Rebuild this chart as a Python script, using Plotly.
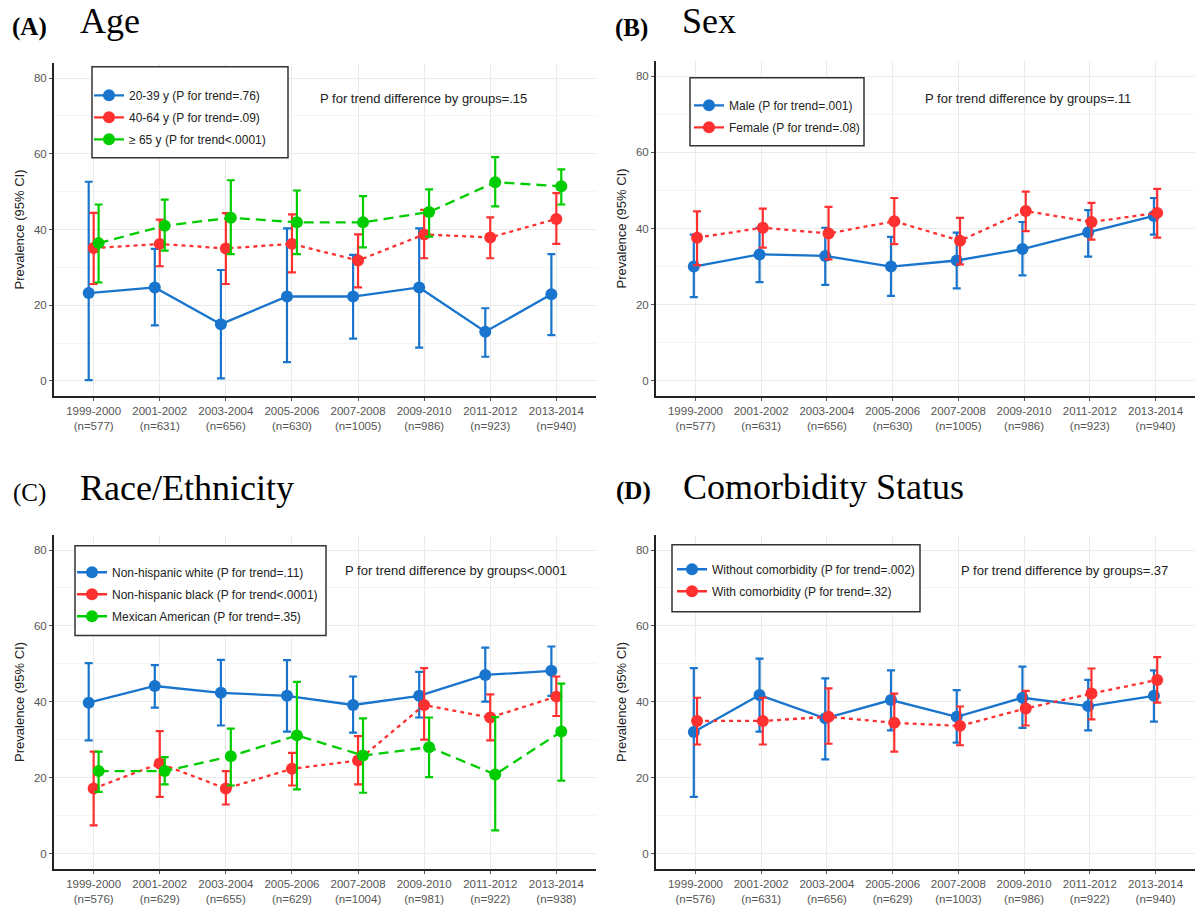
import plotly.graph_objects as go

W, H = 1195, 905

periods = ["1999-2000", "2001-2002", "2003-2004", "2005-2006",
           "2007-2008", "2009-2010", "2011-2012", "2013-2014"]
n_age = [577, 631, 656, 630, 1005, 986, 923, 940]
n_sex = [577, 631, 656, 630, 1005, 986, 923, 940]
n_race = [576, 629, 655, 629, 1004, 981, 922, 938]
n_como = [576, 631, 656, 629, 1003, 986, 922, 940]

# Panel A: Age
age_2039 = [23.2, 24.7, 15.0, 22.3, 22.3, 24.7, 13.0, 22.9]
age_2039_lo = [0.2, 14.7, 0.7, 5.0, 11.2, 8.8, 6.4, 12.1]
age_2039_hi = [52.6, 34.9, 29.3, 40.3, 33.3, 40.3, 19.2, 33.5]
age_4064 = [35.1, 36.2, 35.0, 36.2, 31.8, 38.7, 37.9, 42.8]
age_4064_lo = [25.6, 30.3, 25.6, 28.7, 24.7, 32.4, 32.4, 36.2]
age_4064_hi = [44.4, 42.6, 44.3, 44.0, 38.7, 45.2, 43.2, 49.6]
age_65 = [36.4, 41.0, 43.1, 41.9, 41.9, 44.6, 52.5, 51.4]
age_65_lo = [26.0, 34.4, 33.5, 33.5, 35.3, 38.1, 46.1, 46.6]
age_65_hi = [46.6, 47.9, 53.0, 50.3, 48.8, 50.6, 59.1, 55.9]

# Panel B: Sex
male = [30.0, 33.2, 32.8, 30.0, 31.6, 34.6, 39.0, 43.3]
male_lo = [22.0, 25.9, 25.2, 22.3, 24.3, 27.7, 32.6, 38.4]
male_hi = [38.4, 40.2, 40.2, 37.8, 38.9, 41.7, 44.8, 48.0]
female = [37.6, 40.2, 38.7, 41.9, 36.8, 44.6, 41.7, 44.1]
female_lo = [30.4, 35.0, 31.9, 35.9, 30.6, 39.3, 37.1, 37.6]
female_hi = [44.5, 45.2, 45.7, 48.0, 42.8, 49.7, 46.7, 50.4]

# Panel C: Race/Ethnicity
white = [39.8, 44.2, 42.4, 41.6, 39.2, 41.6, 47.1, 48.2]
white_lo = [29.9, 38.5, 33.8, 32.2, 31.9, 35.9, 40.1, 41.6]
white_hi = [50.2, 49.7, 51.1, 51.0, 46.7, 47.9, 54.3, 54.6]
black = [17.2, 23.8, 17.2, 22.4, 24.6, 39.2, 35.9, 41.4]
black_lo = [7.5, 15.0, 13.0, 18.0, 18.3, 30.1, 29.9, 36.3]
black_hi = [26.9, 32.3, 21.8, 26.6, 31.0, 48.9, 42.0, 46.7]
mexican = [21.8, 21.8, 25.7, 31.2, 25.9, 28.1, 20.9, 32.2]
mexican_lo = [16.3, 18.3, 18.0, 17.0, 16.1, 20.2, 6.2, 19.3]
mexican_hi = [26.9, 25.5, 33.0, 45.3, 35.7, 35.9, 36.0, 44.8]

# Panel D: Comorbidity
without_c = [32.1, 41.8, 35.7, 40.5, 36.1, 41.1, 38.9, 41.6]
without_c_lo = [15.0, 32.2, 24.9, 32.5, 29.3, 33.2, 32.5, 34.8]
without_c_hi = [48.9, 51.4, 46.2, 48.3, 43.1, 49.3, 45.8, 48.3]
with_c = [35.0, 35.0, 36.1, 34.5, 33.7, 38.3, 42.2, 45.8]
with_c_lo = [28.8, 28.8, 29.0, 26.9, 28.6, 33.8, 35.4, 39.8]
with_c_hi = [41.1, 41.1, 43.6, 42.2, 38.8, 42.9, 48.8, 51.8]

BLUE, RED, GREEN = "#1874CD", "#FF3030", "#00CD00"
SANS = "Liberation Sans, Arial, sans-serif"
SERIF = "Liberation Serif, Times New Roman, serif"

panels = [
    dict(key="A", title="Age", bold=True, n=n_age,
         pval="P for trend difference by groups=.15",
         series=[("20-39 y (P for trend=.76)", age_2039, age_2039_lo, age_2039_hi, BLUE, "solid"),
                 ("40-64 y (P for trend=.09)", age_4064, age_4064_lo, age_4064_hi, RED, "4px,4px"),
                 ("\u2265 65 y (P for trend<.0001)", age_65, age_65_lo, age_65_hi, GREEN, "10px,6px")]),
    dict(key="B", title="Sex", bold=True, n=n_sex,
         pval="P for trend difference by groups=.11",
         series=[("Male (P for trend=.001)", male, male_lo, male_hi, BLUE, "solid"),
                 ("Female (P for trend=.08)", female, female_lo, female_hi, RED, "4px,4px")]),
    dict(key="C", title="Race/Ethnicity", bold=False, n=n_race,
         pval="P for trend difference by groups<.0001",
         series=[("Non-hispanic white (P for trend=.11)", white, white_lo, white_hi, BLUE, "solid"),
                 ("Non-hispanic black (P for trend<.0001)", black, black_lo, black_hi, RED, "4px,4px"),
                 ("Mexican American (P for trend=.35)", mexican, mexican_lo, mexican_hi, GREEN, "10px,6px")]),
    dict(key="D", title="Comorbidity Status", bold=True, n=n_como,
         pval="P for trend difference by groups=.37",
         series=[("Without comorbidity (P for trend=.002)", without_c, without_c_lo, without_c_hi, BLUE, "solid"),
                 ("With comorbidity (P for trend=.32)", with_c, with_c_lo, with_c_hi, RED, "4px,4px")]),
]

# layout geometry in pixels (left, right, top, bottom)
geo = {
    "A": dict(plot=(54, 596, 63, 397), lab=(10, 27), tit=(78, 21), pv=(423, 99),
              box=(92, 288, 67, 158), leg=(89, 94)),
    "B": dict(plot=(656, 1195, 61, 397), lab=(613, 28), tit=(680, 21), pv=(1028, 99),
              box=(690, 864, 78, 146), leg=(689, 104)),
    "C": dict(plot=(54, 596, 536, 871), lab=(11, 494), tit=(78, 489), pv=(456, 572),
              box=(75, 326, 547, 637), leg=(72, 572)),
    "D": dict(plot=(656, 1195, 536, 871), lab=(614, 492), tit=(681, 488), pv=(1064, 572),
              box=(672, 920, 546, 613), leg=(672, 569)),
}

def px(x):
    return x / W

def py(y):
    return 1 - y / H

fig = go.Figure()
annotations = []
shapes = []
layout = {}

for i, p in enumerate(panels):
    k = i + 1
    sfx = "" if k == 1 else str(k)
    g = geo[p["key"]]
    L, R, T, B = g["plot"]
    ns = len(p["series"])
    step = 0.075 if ns == 3 else 0.05
    legname = "legend" if k == 1 else "legend" + str(k)
    for j, (name, est, lo, hi, col, dash) in enumerate(p["series"]):
        off = (j - (ns - 1) / 2) * step
        xs = [idx + off for idx in range(len(periods))]
        fig.add_trace(go.Scatter(
            x=xs, y=est, name=name, mode="lines+markers",
            xaxis="x" + sfx, yaxis="y" + sfx,
            line=dict(color=col, width=2.3, dash=dash),
            marker=dict(color=col, size=12),
            error_y=dict(type="data", symmetric=False,
                         array=[h - e for h, e in zip(hi, est)],
                         arrayminus=[e - l for e, l in zip(est, lo)],
                         color=col, thickness=2.2, width=4),
            showlegend=False,
        ))
        # legend key (ggplot-style: point on solid short line)
        fig.add_trace(go.Scatter(
            x=[None], y=[None], name=name, mode="lines+markers",
            xaxis="x" + sfx, yaxis="y" + sfx,
            line=dict(color=col, width=2.3),
            marker=dict(color=col, size=12),
            legend=legname, legendgroup=p["key"] + str(j), showlegend=True,
        ))
    ticktext = [f"{per}<br>(n={n})" for per, n in zip(periods, p["n"])]
    layout["xaxis" + sfx] = dict(
        domain=[px(L), min(px(R), 1)], anchor="y" + sfx,
        range=[-0.6, 7.6], tickmode="array",
        tickvals=list(range(len(periods))), ticktext=ticktext,
        showline=True, linewidth=2, linecolor="#222",
        ticks="outside", ticklen=3, tickcolor="#555", tickwidth=1,
        showgrid=True, gridcolor="#ebebeb", gridwidth=1, zeroline=False,
        tickfont=dict(family=SANS, size=11.5, color="#555"),
        fixedrange=True,
    )
    layout["yaxis" + sfx] = dict(
        domain=[py(B), py(T)], anchor="x" + sfx,
        range=[-4, 84], tickmode="array", tickvals=[0, 20, 40, 60, 80],
        showline=True, linewidth=2, linecolor="#222",
        ticks="outside", ticklen=3, tickcolor="#555", tickwidth=1,
        showgrid=True, gridcolor="#ebebeb", gridwidth=1, zeroline=False,
        minor=dict(tickvals=[10, 30, 50, 70], showgrid=True, gridcolor="#f5f5f5", gridwidth=1),
        tickfont=dict(family=SANS, size=11.5, color="#555"),
        title=dict(text="Prevalence (95% CI)", font=dict(family=SANS, size=13, color="#222"), standoff=6),
        fixedrange=True,
    )
    # legend box
    bl, br, bt, bb = g["box"]
    shapes.append(dict(type="rect", xref="paper", yref="paper",
                       x0=px(bl), x1=px(br), y0=py(bb), y1=py(bt),
                       line=dict(color="#333", width=1.5), fillcolor="white", layer="above"))
    lx, ly = g["leg"]
    layout[legname] = dict(
        x=px(lx), y=py(ly - 13), xanchor="left", yanchor="top",
        bgcolor="rgba(0,0,0,0)", borderwidth=0,
        font=dict(family=SANS, size=12, color="#222"),
        itemwidth=30, tracegroupgap=3, traceorder="grouped",
        itemclick=False, itemdoubleclick=False,
    )
    # panel label and title
    lab = f"<b>({p['key']})</b>" if p["bold"] else f"({p['key']})"
    annotations.append(dict(text=lab, xref="paper", yref="paper",
                            x=px(g["lab"][0]), y=py(g["lab"][1]), xanchor="left", yanchor="middle",
                            showarrow=False, font=dict(family=SERIF, size=25, color="#000")))
    annotations.append(dict(text=p["title"], xref="paper", yref="paper",
                            x=px(g["tit"][0]), y=py(g["tit"][1]), xanchor="left", yanchor="middle",
                            showarrow=False, font=dict(family=SERIF, size=36, color="#000")))
    annotations.append(dict(text=p["pval"], xref="paper", yref="paper",
                            x=px(g["pv"][0]), y=py(g["pv"][1]), xanchor="center", yanchor="middle",
                            showarrow=False, font=dict(family=SANS, size=13, color="#222")))

fig.update_layout(
    width=W, height=H, autosize=False,
    margin=dict(l=0, r=0, t=0, b=0),
    paper_bgcolor="white", plot_bgcolor="white",
    annotations=annotations, shapes=shapes,
    hovermode=False,
    **layout,
)

fig.write_html("out.html")
